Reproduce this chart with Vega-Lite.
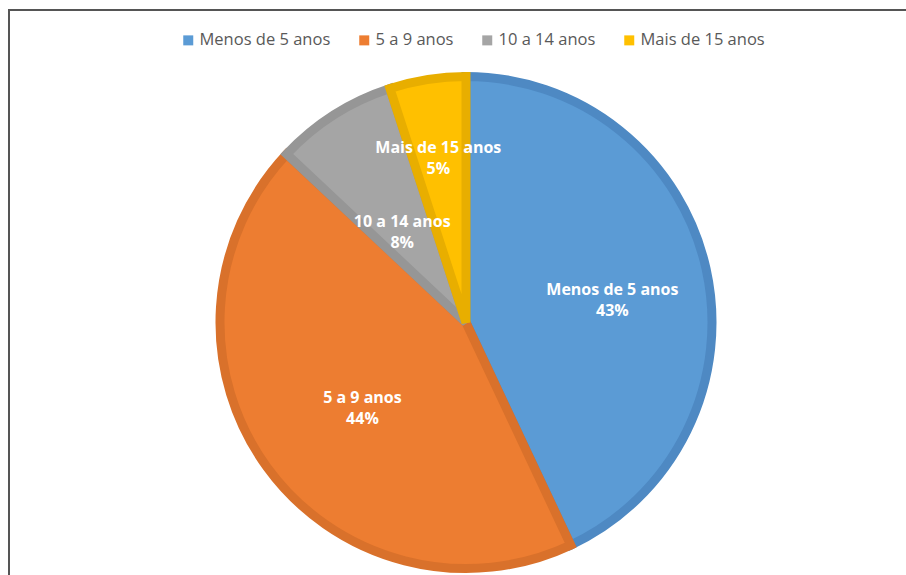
{
  "$schema": "https://vega.github.io/schema/vega-lite/v6.json",
  "autosize": {"type": "none"},
  "width": 914,
  "height": 625,
  "padding": {"left": 9, "top": 10, "right": -17, "bottom": -60},
  "background": "white",
  "view": {"stroke": "#555555", "strokeWidth": 2, "fill": "white"},
  "config": {
    "font": "Open Sans"
  },
  "data": {
    "values": [
      {"cat": "Menos de 5 anos", "val": 0.43, "ord": 1, "rotulo": "Menos de 5 anos\n43%"},
      {"cat": "5 a 9 anos", "val": 0.44, "ord": 2, "rotulo": "5 a 9 anos\n44%"},
      {"cat": "10 a 14 anos", "val": 0.08, "ord": 3, "rotulo": "10 a 14 anos\n8%"},
      {"cat": "Mais de 15 anos", "val": 0.05, "ord": 4, "rotulo": "Mais de 15 anos\n5%"}
    ]
  },
  "encoding": {
    "theta": {"field": "val", "type": "quantitative", "stack": true},
    "order": {"field": "ord", "type": "quantitative"}
  },
  "layer": [
    {
      "mark": {"type": "arc", "outerRadius": 246, "strokeWidth": 9, "strokeJoin": "miter"},
      "encoding": {
        "color": {
          "field": "cat", "type": "nominal",
          "scale": {"domain": ["Menos de 5 anos", "5 a 9 anos", "10 a 14 anos", "Mais de 15 anos"],
                    "range": ["#5B9BD5", "#ED7D31", "#A5A5A5", "#FFC000"]},
          "legend": {
            "title": null, "orient": "none", "direction": "horizontal",
            "legendX": 171, "legendY": 22, "padding": 0,
            "symbolType": "square", "symbolSize": 100, "symbolStrokeWidth": 0,
            "labelFont": "Open Sans", "labelFontSize": 16.5, "labelColor": "#595959",
            "labelOffset": 3, "columnPadding": 25
          }
        },
        "stroke": {
          "field": "cat", "type": "nominal",
          "scale": {"domain": ["Menos de 5 anos", "5 a 9 anos", "10 a 14 anos", "Mais de 15 anos"],
                    "range": ["#4E89C3", "#D9712B", "#969696", "#E8AE00"]},
          "legend": null
        }
      }
    },
    {
      "mark": {"type": "text", "radius": 150, "fill": "white", "fontWeight": "bold", "fontSize": 16, "lineBreak": "\n", "lineHeight": 21, "align": "center", "baseline": "middle"},
      "encoding": {"text": {"condition": {"test": "datum.cat === 'Menos de 5 anos'", "field": "rotulo"}, "value": ""}}
    },
    {
      "mark": {"type": "text", "radius": 128, "fill": "white", "fontWeight": "bold", "fontSize": 16, "lineBreak": "\n", "lineHeight": 21, "align": "center", "baseline": "middle"},
      "encoding": {"text": {"condition": {"test": "datum.cat === '5 a 9 anos'", "field": "rotulo"}, "value": ""}}
    },
    {
      "mark": {"type": "text", "radius": 119, "fill": "white", "fontWeight": "bold", "fontSize": 16, "lineBreak": "\n", "lineHeight": 21, "align": "center", "baseline": "middle"},
      "encoding": {"text": {"condition": {"test": "datum.cat === '10 a 14 anos'", "field": "rotulo"}, "value": ""}}
    },
    {
      "mark": {"type": "text", "radius": 177, "fill": "white", "fontWeight": "bold", "fontSize": 16, "lineBreak": "\n", "lineHeight": 21, "align": "center", "baseline": "middle"},
      "encoding": {"text": {"condition": {"test": "datum.cat === 'Mais de 15 anos'", "field": "rotulo"}, "value": ""}}
    }
  ]
}
